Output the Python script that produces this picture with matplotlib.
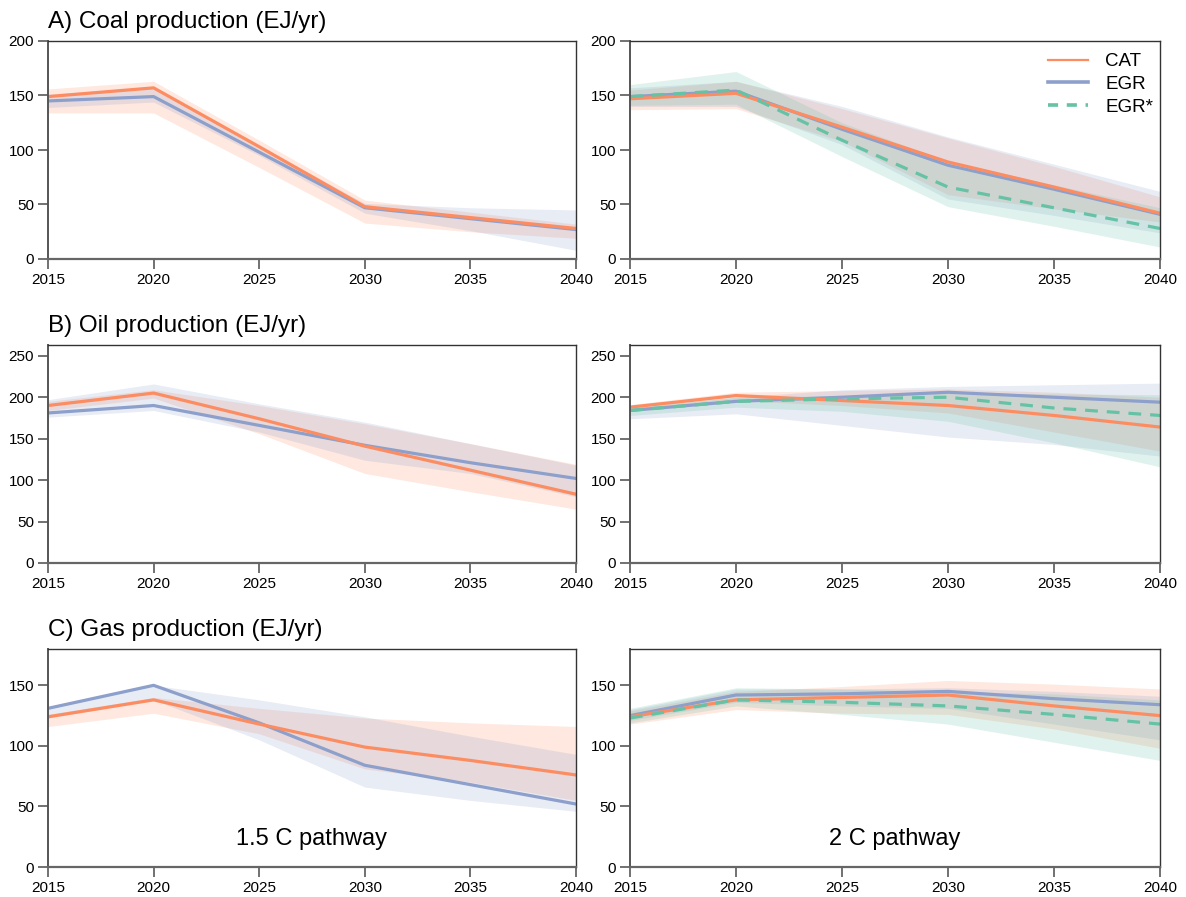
import numpy as np
import matplotlib
matplotlib.use("Agg")
import matplotlib.pyplot as plt
from matplotlib.lines import Line2D

plt.rcParams['font.family'] = ['Liberation Sans', 'DejaVu Sans']

cat_color = "#FC8D62"
egr_color = "#8DA0CB"
egrs_color = "#66C2A5"

years = [2015, 2020, 2025, 2030, 2035, 2040]

# ---- coal, 1.5 C
coal15_cat = [149, 157, 103, 48, 38, 28]
coal15_cat_lo = [134, 134, 84, 33, 25, 19]
coal15_cat_hi = [156, 163, 109, 54, 43, 32]
coal15_egr = [145, 149, 98, 47, 37, 27]
coal15_egr_lo = [139, 144, 95, 42, 26, 8]
coal15_egr_hi = [151, 158, 104, 51, 47, 45]

# ---- coal, 2 C
coal2_cat = [147, 152, 121, 89, 66, 42]
coal2_cat_lo = [137, 138, 108, 59, 46, 34]
coal2_cat_hi = [155, 163, 138, 111, 85, 57]
coal2_egr = [149, 154, 119, 86, 64, 41]
coal2_egr_lo = [140, 140, 105, 55, 40, 24]
coal2_egr_hi = [157, 163, 140, 112, 87, 62]
coal2_egrs = [149, 155, 109, 66, 47, 28]
coal2_egrs_lo = [141, 142, 94, 48, 30, 11]
coal2_egrs_hi = [160, 172, 125, 90, 68, 47]

# ---- oil, 1.5 C
oil15_cat = [190, 205, 174, 141, 112, 83]
oil15_cat_lo = [184, 199, 156, 108, 86, 65]
oil15_cat_hi = [195, 209, 190, 168, 144, 119]
oil15_egr = [181, 190, 166, 142, 121, 102]
oil15_egr_lo = [176, 184, 158, 124, 108, 80]
oil15_egr_hi = [197, 216, 192, 170, 144, 118]

# ---- oil, 2 C
oil2_cat = [188, 202, 196, 190, 178, 164]
oil2_cat_lo = [183, 196, 190, 181, 158, 135]
oil2_cat_hi = [191, 206, 208, 210, 206, 200]
oil2_egr = [184, 195, 200, 206, 200, 194]
oil2_egr_lo = [174, 180, 166, 152, 143, 129]
oil2_egr_hi = [187, 200, 209, 213, 215, 217]
oil2_egrs = [184, 195, 198, 200, 187, 178]
oil2_egrs_lo = [178, 188, 183, 171, 145, 116]
oil2_egrs_hi = [188, 200, 202, 205, 204, 203]

# ---- gas, 1.5 C
gas15_cat = [124, 138, 118, 99, 88, 76]
gas15_cat_lo = [116, 127, 110, 81, 70, 55]
gas15_cat_hi = [126, 140, 131, 123, 119, 116]
gas15_egr = [131, 150, 119, 84, 68, 52]
gas15_egr_lo = [123, 138, 105, 66, 55, 46]
gas15_egr_hi = [132, 150, 138, 124, 108, 93]

# ---- gas, 2 C
gas2_cat = [124, 138, 140, 142, 133, 125]
gas2_cat_lo = [118, 130, 127, 126, 114, 98]
gas2_cat_hi = [129, 145, 149, 154, 151, 147]
gas2_egr = [125, 142, 143, 145, 139, 134]
gas2_egr_lo = [121, 136, 133, 131, 118, 105]
gas2_egr_hi = [130, 147, 147, 148, 145, 141]
gas2_egrs = [123, 138, 136, 133, 126, 118]
gas2_egrs_lo = [119, 133, 126, 118, 103, 88]
gas2_egrs_hi = [131, 148, 147, 145, 143, 138]

titles = ["A) Coal production (EJ/yr)", "B) Oil production (EJ/yr)", "C) Gas production (EJ/yr)"]
ytops = [200, 263, 180]
yticks = [[0, 50, 100, 150, 200], [0, 50, 100, 150, 200, 250], [0, 50, 100, 150]]

panels = [
	[(coal15_cat, coal15_cat_lo, coal15_cat_hi, coal15_egr, coal15_egr_lo, coal15_egr_hi),
	 (coal2_cat, coal2_cat_lo, coal2_cat_hi, coal2_egr, coal2_egr_lo, coal2_egr_hi,
	  coal2_egrs, coal2_egrs_lo, coal2_egrs_hi)],
	[(oil15_cat, oil15_cat_lo, oil15_cat_hi, oil15_egr, oil15_egr_lo, oil15_egr_hi),
	 (oil2_cat, oil2_cat_lo, oil2_cat_hi, oil2_egr, oil2_egr_lo, oil2_egr_hi,
	  oil2_egrs, oil2_egrs_lo, oil2_egrs_hi)],
	[(gas15_cat, gas15_cat_lo, gas15_cat_hi, gas15_egr, gas15_egr_lo, gas15_egr_hi),
	 (gas2_cat, gas2_cat_lo, gas2_cat_hi, gas2_egr, gas2_egr_lo, gas2_egr_hi,
	  gas2_egrs, gas2_egrs_lo, gas2_egrs_hi)],
]

W, H = 1186, 897
fig = plt.figure(figsize=(W / 100, H / 100), dpi=100)

col_x = [48, 630]
col_w = [528, 530]
row_bottom = [259, 563, 867]
box_h = 218
band_alpha = 0.2
lw = 2.3
dash = (4, 2.8)

for r in range(3):
	for c in range(2):
		ax = fig.add_axes([col_x[c] / W, 1 - row_bottom[r] / H, col_w[c] / W, box_h / H])
		d = panels[r][c]
		ax.fill_between(years, d[1], d[2], color=cat_color, alpha=band_alpha, lw=0)
		ax.fill_between(years, d[4], d[5], color=egr_color, alpha=band_alpha, lw=0)
		if c == 1:
			ax.fill_between(years, d[7], d[8], color=egrs_color, alpha=band_alpha, lw=0)
		ax.plot(years, d[3], color=egr_color, lw=lw)
		ax.plot(years, d[0], color=cat_color, lw=lw)
		if c == 1:
			ax.plot(years, d[6], color=egrs_color, lw=lw, linestyle=(0, dash))

		ax.set_xlim(2015, 2040)
		ax.set_ylim(0, ytops[r])
		ax.set_xticks([2015, 2020, 2025, 2030, 2035, 2040])
		ax.set_yticks(yticks[r])
		for s in ax.spines.values():
			s.set_color("#333333")
			s.set_linewidth(1.0)
		ax.spines['left'].set_color("#555555")
		ax.spines['bottom'].set_color("#666666")
		ax.spines['left'].set_linewidth(1.4)
		ax.spines['bottom'].set_linewidth(1.6)
		ax.tick_params(direction='out', length=7, width=1.3, color="#666666",
					   labelsize=11, pad=3)

		if c == 0:
			fig.text(col_x[0] / W, 1 - (row_bottom[r] - box_h - 19) / H, titles[r],
					 fontsize=17.5, ha='left', va='center')

		if r == 2:
			label = "1.5 C pathway" if c == 0 else "2 C pathway"
			ax.text(0.5, 0.13, label, transform=ax.transAxes, ha='center', va='center',
					fontsize=17)

		if r == 0 and c == 1:
			handles = [
				Line2D([], [], color=cat_color, lw=1.6),
				Line2D([], [], color=egr_color, lw=2.6),
				Line2D([], [], color=egrs_color, lw=2.6, linestyle=(0, (2.8, 2.4))),
			]
			ax.legend(handles, ["CAT", "EGR", "EGR*"], loc='upper left',
					  bbox_to_anchor=(0.789, 0.945), frameon=False, fontsize=13.5,
					  handlelength=2.1, handletextpad=0.95, labelspacing=0.3,
					  borderpad=0, borderaxespad=0)

plt.savefig("out.png", dpi=100)
